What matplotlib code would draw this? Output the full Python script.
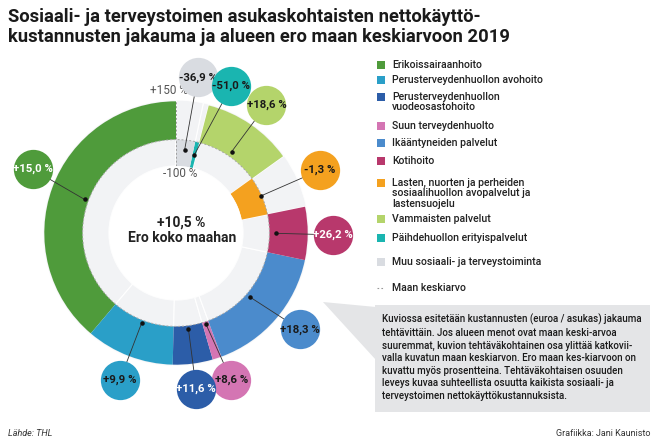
import numpy as np
import matplotlib.pyplot as plt
from matplotlib import font_manager
from matplotlib.patches import Rectangle, Polygon

plt.rcParams['font.family'] = ['Roboto', 'DejaVu Sans']

# Tehtävät selitteen järjestyksessä (kiertävät vastapäivään ylhäältä)
tehtavat = ['Erikoissairaanhoito',
            'Perusterveydenhuollon avohoito',
            'Perusterveydenhuollon\nvuodeosastohoito',
            'Suun terveydenhuolto',
            'Ikääntyneiden palvelut',
            'Kotihoito',
            'Lasten, nuorten ja perheiden\nsosiaalihuollon avopalvelut ja\nlastensuojelu',
            'Vammaisten palvelut',
            'Päihdehuollon erityispalvelut',
            'Muu sosiaali- ja terveystoiminta']
# osuus nettokäyttökustannuksista, %
osuus = [38.8, 10.8, 4.9, 1.1, 16.1, 6.5, 6.7, 11.1, 0.7, 3.3]
# ero maan keskiarvoon, %
ero = [15.0, 9.9, 11.6, 8.6, 18.3, 26.2, -1.3, 18.6, -51.0, -36.9]
ero_koko_maa = 10.5

varit = ['#4f9b3b', '#2a9fc8', '#2c5da8', '#d475b3', '#4b8bcc',
         '#b8386c', '#f4a11f', '#b4d46b', '#1ab5b0', '#d9dce1']
tekstivari = ['white', '#1a1a1a', 'white', '#1a1a1a', '#1a1a1a',
              'white', '#1a1a1a', '#1a1a1a', '#1a1a1a', '#1a1a1a']

selite = ('Kuviossa esitetään kustannusten (euroa / asukas) jakauma\n'
          'tehtävittäin. Jos alueen menot ovat maan keski-arvoa\n'
          'suuremmat, kuvion tehtäväkohtainen osa ylittää katkovii-\n'
          'valla kuvatun maan keskiarvon. Ero maan kes-kiarvoon on\n'
          'kuvattu myös prosentteina. Tehtäväkohtaisen osuuden\n'
          'leveys kuvaa suhteellista osuutta kaikista sosiaali- ja\n'
          'terveystoimen nettokäyttökustannuksista.')

# otsikolle kapea fontti jos löytyy
nimet = {f.name for f in font_manager.fontManager.ttflist}
otsikkofontti = 'Liberation Sans Narrow' if 'Liberation Sans Narrow' in nimet else 'Roboto'

W, H = 660, 440
fig = plt.figure(figsize=(W / 100, H / 100), dpi=100)

# Rengas polaarikoordinaateissa: keskipiste ja ulkosäde pikseleinä
cx, cy, R = 176, 233, 133
ax = fig.add_axes([(cx - R) / W, (H - cy - R) / H, 2 * R / W, 2 * R / H],
                  projection='polar')
ax.set_theta_zero_location('N')
ax.set_theta_direction(1)
ax.set_ylim(-100, 150)
ax.set_rorigin(-354)
ax.axis('off')

leveys = np.deg2rad(np.array(osuus) * 3.6)
alku = np.concatenate([[0], np.cumsum(leveys)[:-1]])
keski = alku + leveys / 2
ero_arr = np.array(ero)

# taustarengas
ax.bar(alku, 250, width=leveys, bottom=-100, align='edge',
       color='#f2f3f5', edgecolor='white', linewidth=0.8, zorder=1)

# tehtäväkohtaiset osat: yli keskiarvon ulos, alle keskiarvon sisään
pohja = np.where(ero_arr > 0, 0, -100)
korkeus = np.where(ero_arr > 0, 145, 100)
ax.bar(alku, korkeus, width=leveys, bottom=pohja, align='edge',
       color=varit, linewidth=0, zorder=2)

# maan keskiarvo katkoviivalla + asteikkoviiva
t = np.linspace(0, 2 * np.pi, 500)
ax.plot(t, np.zeros_like(t), color='#a8a8a8', lw=0.7, ls=(0, (2, 2)), zorder=3)
ax.plot([0, 0], [-100, 150], color='#a0a0a0', lw=0.7, ls=(0, (2, 2)), zorder=3)

ax.annotate('+150 %', xy=(0, 150), xytext=(-5, 2), textcoords='offset points',
            ha='center', va='bottom', fontsize=8.5, color='#555555', zorder=4)
ax.annotate('-100 %', xy=(0, -100), xytext=(3, -1), textcoords='offset points',
            ha='center', va='top', fontsize=8.5, color='#555555', zorder=4)

# arvopallot: kiertävät myötäpäivään ylhäältä, jotta päällekkäisyys menee oikein
siirto = np.deg2rad([-3.8, 0, 0, 2.4, 3, -0.5, 0, -0.8, -7.5, -2])
r_pallo = 241
for i in reversed(range(len(ero))):
    th = keski[i] + siirto[i]
    z = 10 + (len(ero) - i) * 3
    ax.annotate('', xy=(keski[i], ero[i]), xytext=(th, r_pallo),
                arrowprops=dict(arrowstyle='-', color='#333333', lw=0.6,
                                shrinkA=0, shrinkB=0), zorder=5)
    ax.scatter(keski[i], ero[i], s=5, color='#111111', zorder=6)
    ax.scatter(th, r_pallo, s=800, color=varit[i], linewidth=0,
               clip_on=False, zorder=z)
    teksti = f'{ero[i]:+.1f} %'.replace('.', ',')
    ax.text(th, r_pallo, teksti, ha='center', va='center', fontsize=8.2,
            fontweight='bold', color=tekstivari[i], clip_on=False, zorder=z + 1)

# Teksti- ja selitekerros pikselikoordinaateissa
ov = fig.add_axes([0, 0, 1, 1])
ov.set_xlim(0, W)
ov.set_ylim(H, 0)
ov.axis('off')

ov.text(8, 21.5, 'Sosiaali- ja terveystoimen asukaskohtaisten nettokäyttö-',
        fontsize=13.2, fontweight='bold', family=otsikkofontti, color='#1a1a1a',
        va='baseline')
ov.text(8, 41.5, 'kustannusten jakauma ja alueen ero maan keskiarvoon 2019',
        fontsize=13.2, fontweight='bold', family=otsikkofontti, color='#1a1a1a',
        va='baseline')

ov.text(181, 223, f'{ero_koko_maa:+.1f} %'.replace('.', ','), ha='center',
        va='center', fontsize=10, fontweight='bold', color='#222222')
ov.text(182, 237.5, 'Ero koko maahan', ha='center', va='center',
        fontsize=10, fontweight='bold', color='#222222')

# selite
rivit_y = [65, 80, 97, 126, 143, 161, 183, 219, 238, 262]
for nimi, vari, y in zip(tehtavat, varit, rivit_y):
    ov.add_patch(Rectangle((377, y - 4), 8, 8, color=vari, lw=0))
    for k, osa in enumerate(nimi.split('\n')):
        ov.text(392, y + k * 10.5, osa, fontsize=7.6, fontweight='medium',
                color='#222222', va='center')
ov.plot([377, 384], [288, 288], color='#999999', lw=0.8, ls=(0, (1.5, 2)))
ov.text(392, 288, 'Maan keskiarvo', fontsize=7.6, fontweight='medium',
        color='#222222', va='center')

# selitelaatikko nuolineen
ov.add_patch(Polygon([(323, 302), (376, 307), (376, 360)], closed=True,
                     color='#e4e5e7', lw=0))
ov.add_patch(Rectangle((375, 305), 275, 107, color='#e4e5e7', lw=0))
ov.text(382, 314, selite, fontsize=7, fontweight='medium', color='#1a1a1a',
        va='top', linespacing=1.32)

ov.text(8, 433, 'Lähde: THL', fontsize=6.5, style='italic', color='#333333',
        va='center')
ov.text(651, 433, 'Grafiikka: Jani Kaunisto', fontsize=6.5, color='#333333',
        va='center', ha='right')

fig.savefig('out.png', dpi=100)
